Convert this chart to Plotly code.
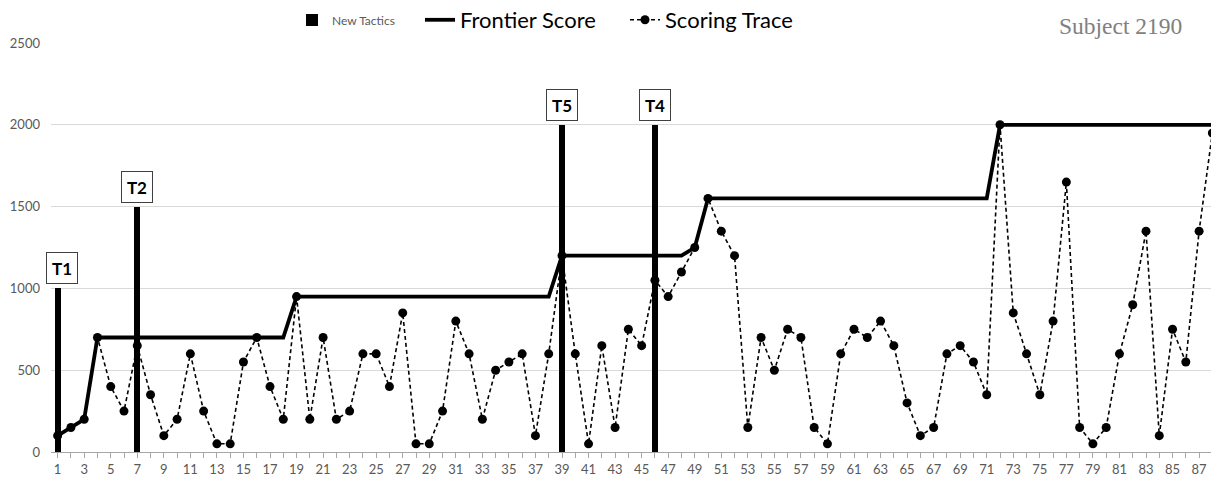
import plotly.graph_objects as go

# ---------------- data ----------------
sessions = list(range(1, 89))

scoring_trace = [
    100, 150, 200, 700, 400, 250, 650, 350, 100, 200,
    600, 250, 50, 50, 550, 700, 400, 200, 950, 200,
    700, 200, 250, 600, 600, 400, 850, 50, 50, 250,
    800, 600, 200, 500, 550, 600, 100, 600, 1200, 600,
    50, 650, 150, 750, 650, 1050, 950, 1100, 1250, 1550,
    1350, 1200, 150, 700, 500, 750, 700, 150, 50, 600,
    750, 700, 800, 650, 300, 100, 150, 600, 650, 550,
    350, 2000, 850, 600, 350, 800, 1650, 150, 50, 150,
    600, 900, 1350, 100, 750, 550, 1350, 1950,
]

frontier_score = [
    100, 150, 200, 700, 700, 700, 700, 700, 700, 700,
    700, 700, 700, 700, 700, 700, 700, 700, 950, 950,
    950, 950, 950, 950, 950, 950, 950, 950, 950, 950,
    950, 950, 950, 950, 950, 950, 950, 950, 1200, 1200,
    1200, 1200, 1200, 1200, 1200, 1200, 1200, 1200, 1250, 1550,
    1550, 1550, 1550, 1550, 1550, 1550, 1550, 1550, 1550, 1550,
    1550, 1550, 1550, 1550, 1550, 1550, 1550, 1550, 1550, 1550,
    1550, 2000, 2000, 2000, 2000, 2000, 2000, 2000, 2000, 2000,
    2000, 2000, 2000, 2000, 2000, 2000, 2000, 2000,
]

tactic_sessions = [1, 7, 39, 46]
tactic_heights = [1000, 1500, 2000, 2000]
tactic_labels = ["T1", "T2", "T5", "T4"]

x_tick_labels = [str(s) if s % 2 == 1 else "" for s in sessions]
y_tick_values = [0, 500, 1000, 1500, 2000, 2500]

# The page body has an 8px default margin, so the figure is sized and
# positioned to compensate.
OFF = 8
W, H = 1219 - OFF, 480 - OFF

# ---------------- figure ----------------
fig = go.Figure()

fig.add_trace(go.Bar(
    x=tactic_sessions, y=tactic_heights, width=0.45,
    marker=dict(color="black", line=dict(width=0)),
    name="New Tactics", legend="legend", showlegend=True,
))

fig.add_trace(go.Scatter(
    x=sessions, y=frontier_score, mode="lines",
    line=dict(color="black", width=3.8),
    name="Frontier Score", legend="legend2", showlegend=True,
))

fig.add_trace(go.Scatter(
    x=sessions, y=scoring_trace, mode="lines+markers",
    line=dict(color="black", width=1.6, dash="4px,3px"),
    marker=dict(color="black", size=9, symbol="circle"),
    name="Scoring Trace", legend="legend3", showlegend=True,
))

annotations = []
for s, h, lab in zip(tactic_sessions, tactic_heights, tactic_labels):
    annotations.append(dict(
        x=s, y=h, xref="x", yref="y", text="<b>%s</b>" % lab,
        showarrow=False, yanchor="bottom", yshift=4,
        xshift=4 if s == tactic_sessions[0] else 0,
        font=dict(family="Lato, Open Sans, sans-serif", size=17, color="black"),
        bgcolor="white", bordercolor="#404040", borderwidth=1,
        width=28, height=28, borderpad=1,
    ))

annotations.append(dict(
    x=(1120 - 51) / 1168, y=(452 - 26) / 409, xref="paper", yref="paper",
    text="Subject 2190",
    showarrow=False, xanchor="center", yanchor="middle",
    font=dict(family="Liberation Serif, Times New Roman, serif", size=23.5, color="#808080"),
))

legend_y = 1 - (20 - OFF) / H

fig.update_layout(
    width=W, height=H,
    margin=dict(l=51 - OFF, r=0, t=43 - OFF, b=28, autoexpand=False),
    paper_bgcolor="white", plot_bgcolor="white",
    showlegend=True,
    bargap=0,
    annotations=annotations,
    shapes=[dict(
        type="rect", xref="paper", yref="paper",
        x0=(1037 - 51) / 1168, x1=1.0, y0=0.99, y1=1.012,
        fillcolor="white", line=dict(width=0), layer="above",
    )],
    legend=dict(
        x=(292 - OFF) / W, y=legend_y, xref="container", yref="container",
        xanchor="left", yanchor="middle",
        orientation="h", bgcolor="rgba(0,0,0,0)",
        font=dict(family="Lato, sans-serif", size=12, color="#595959"),
    ),
    legend2=dict(
        x=(420 - OFF) / W, y=legend_y, xref="container", yref="container",
        xanchor="left", yanchor="middle",
        orientation="h", bgcolor="rgba(0,0,0,0)",
        font=dict(family="Lato, sans-serif", size=22, color="black"),
    ),
    legend3=dict(
        x=(625 - OFF) / W, y=legend_y, xref="container", yref="container",
        xanchor="left", yanchor="middle",
        orientation="h", bgcolor="rgba(0,0,0,0)",
        font=dict(family="Lato, sans-serif", size=22, color="black"),
    ),
    xaxis=dict(
        range=[0.5, 88.5], tickmode="array", tickvals=sessions, ticktext=x_tick_labels,
        ticks="outside", ticklen=5, tickcolor="#a6a6a6", tickwidth=1,
        showline=True, linecolor="#a6a6a6", linewidth=1,
        showgrid=False, zeroline=False, automargin=False,
        tickfont=dict(family="Lato, sans-serif", size=13, color="#595959"),
        tickangle=0,
    ),
    yaxis=dict(
        range=[0, 2500], tickmode="array", tickvals=y_tick_values,
        showgrid=True, gridcolor="#d9d9d9", gridwidth=1,
        zeroline=False, showline=False, ticks="", automargin=False,
        ticklabelstandoff=10,
        tickfont=dict(family="Lato, sans-serif", size=13, color="#595959"),
    ),
)

fig.write_html("out.html")
